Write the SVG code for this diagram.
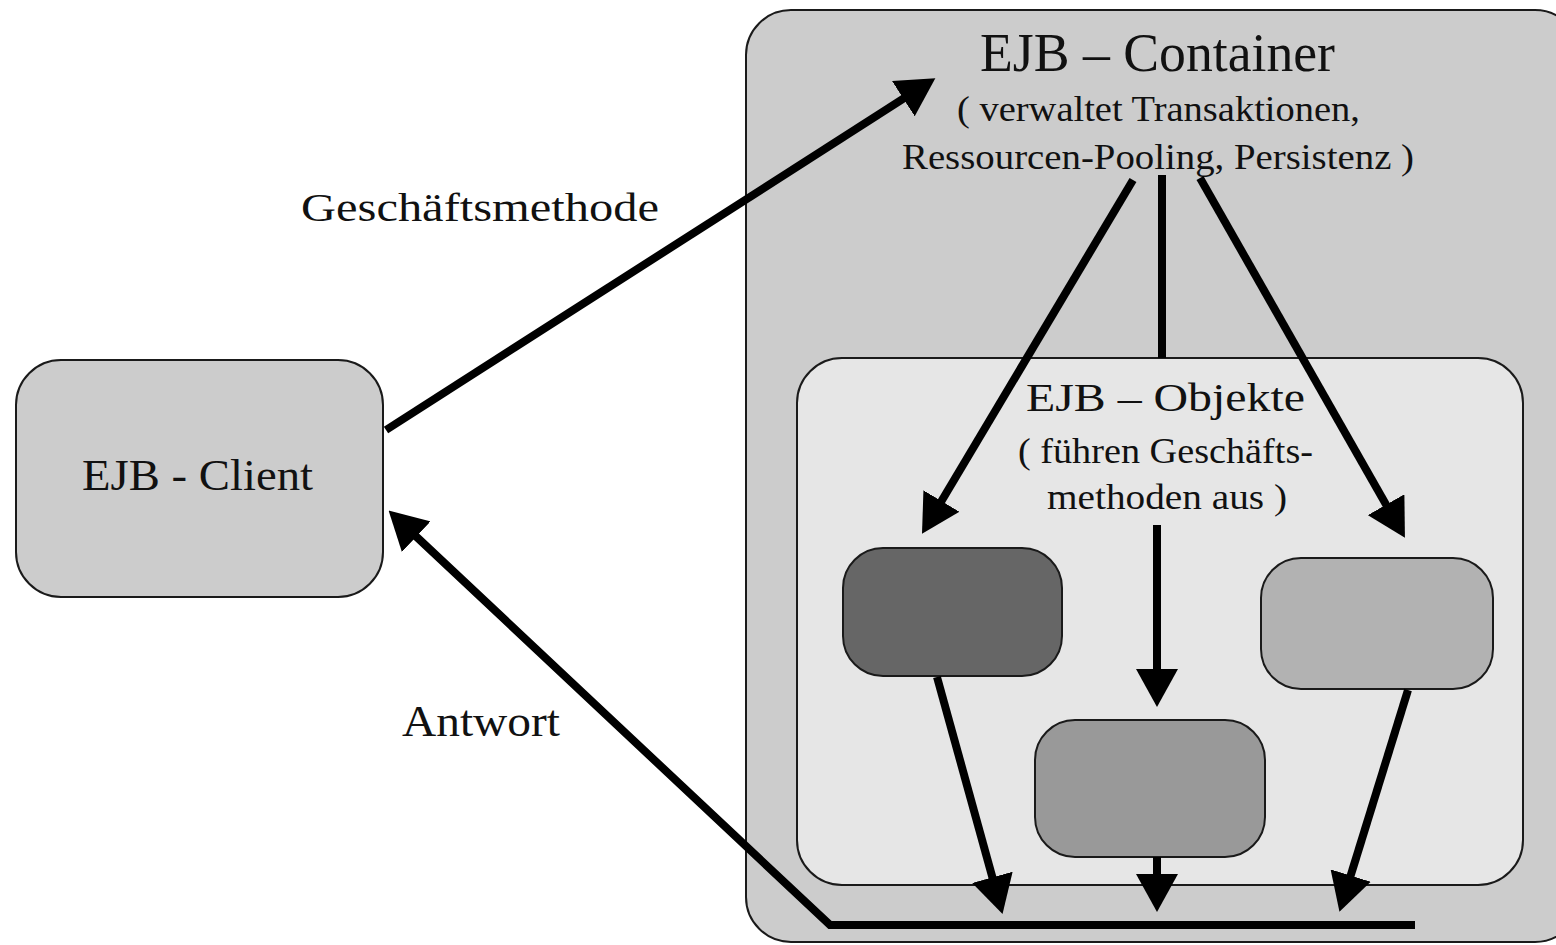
<svg xmlns="http://www.w3.org/2000/svg" width="1556" height="945" viewBox="0 0 1556 945">
  <style>
    .box { stroke: #1a1a1a; stroke-width: 2; }
    .lbl { font-family: "Liberation Serif", "Times New Roman", serif; fill: #111; }
    .wire { fill: none; stroke: #000; stroke-width: 8; stroke-linejoin: miter; }
  </style>
  <defs>
    <marker id="head" viewBox="0 0 38 42" markerWidth="38" markerHeight="42" refX="6" refY="21" orient="auto" markerUnits="userSpaceOnUse">
      <path d="M0,0 L38,21 L0,42 Z" fill="#000"/>
    </marker>
  </defs>

  <rect width="1556" height="945" fill="#fff"/>

  <!-- EJB container (outer frame) -->
  <g id="container">
    <rect class="box" x="746" y="10" width="834" height="932" rx="45" ry="45" fill="#cccccc"/>
    <text class="lbl" x="980" y="71" font-size="54" textLength="355" lengthAdjust="spacingAndGlyphs">EJB – Container</text>
    <text class="lbl" x="957" y="121" font-size="36" textLength="403" lengthAdjust="spacingAndGlyphs">( verwaltet Transaktionen,</text>
    <text class="lbl" x="902" y="169" font-size="36" textLength="512" lengthAdjust="spacingAndGlyphs">Ressourcen-Pooling, Persistenz )</text>
  </g>

  <!-- EJB objects area -->
  <g id="objects">
    <rect class="box" x="797" y="358" width="726" height="527" rx="45" ry="45" fill="#e6e6e6"/>
    <text class="lbl" x="1026" y="411" font-size="40" textLength="279" lengthAdjust="spacingAndGlyphs">EJB – Objekte</text>
    <text class="lbl" x="1018" y="463" font-size="36" textLength="295" lengthAdjust="spacingAndGlyphs">( führen Geschäfts-</text>
    <text class="lbl" x="1047" y="509" font-size="36" textLength="240" lengthAdjust="spacingAndGlyphs">methoden aus )</text>
  </g>

  <g id="bean-a">
    <rect class="box" x="843" y="548" width="219" height="128" rx="40" ry="40" fill="#666666"/>
  </g>
  <g id="bean-b">
    <rect class="box" x="1261" y="558" width="232" height="131" rx="40" ry="40" fill="#b2b2b2"/>
  </g>
  <g id="bean-c">
    <rect class="box" x="1035" y="720" width="230" height="137" rx="40" ry="40" fill="#999999"/>
  </g>

  <!-- EJB client -->
  <g id="client">
    <rect class="box" x="16" y="360" width="367" height="237" rx="45" ry="45" fill="#cccccc"/>
    <text class="lbl" x="82" y="490" font-size="44" textLength="231" lengthAdjust="spacingAndGlyphs">EJB - Client</text>
  </g>

  <!-- edge labels -->
  <g id="labels">
    <text class="lbl" x="301" y="221" font-size="41" textLength="358" lengthAdjust="spacingAndGlyphs">Geschäftsmethode</text>
    <text class="lbl" x="402" y="736" font-size="45" textLength="158" lengthAdjust="spacingAndGlyphs">Antwort</text>
  </g>

  <!-- connectors -->
  <g id="connectors">
    <!-- client to container -->
    <path class="wire" d="M386,430 L908.4,95.4" marker-end="url(#head)"/>
    <!-- container fan-out -->
    <path class="wire" d="M1133,180 L938.4,506.2" marker-end="url(#head)"/>
    <path class="wire" d="M1162,175 L1162,358" stroke-width="10"/>
    <path class="wire" d="M1200,178 L1389.1,509.9" marker-end="url(#head)"/>
    <path class="wire" d="M1157,525 L1157,675" marker-end="url(#head)"/>
    <!-- beans to result bar -->
    <path class="wire" d="M937,677 L994,883.1" marker-end="url(#head)"/>
    <path class="wire" d="M1157,857 L1157,880" marker-end="url(#head)"/>
    <path class="wire" d="M1408,690 L1348.9,881.3" marker-end="url(#head)"/>
    <!-- response back to client -->
    <path class="wire" d="M1415,925 L830,925 L411.9,532.5" stroke-width="9" marker-end="url(#head)"/>
  </g>
</svg>
